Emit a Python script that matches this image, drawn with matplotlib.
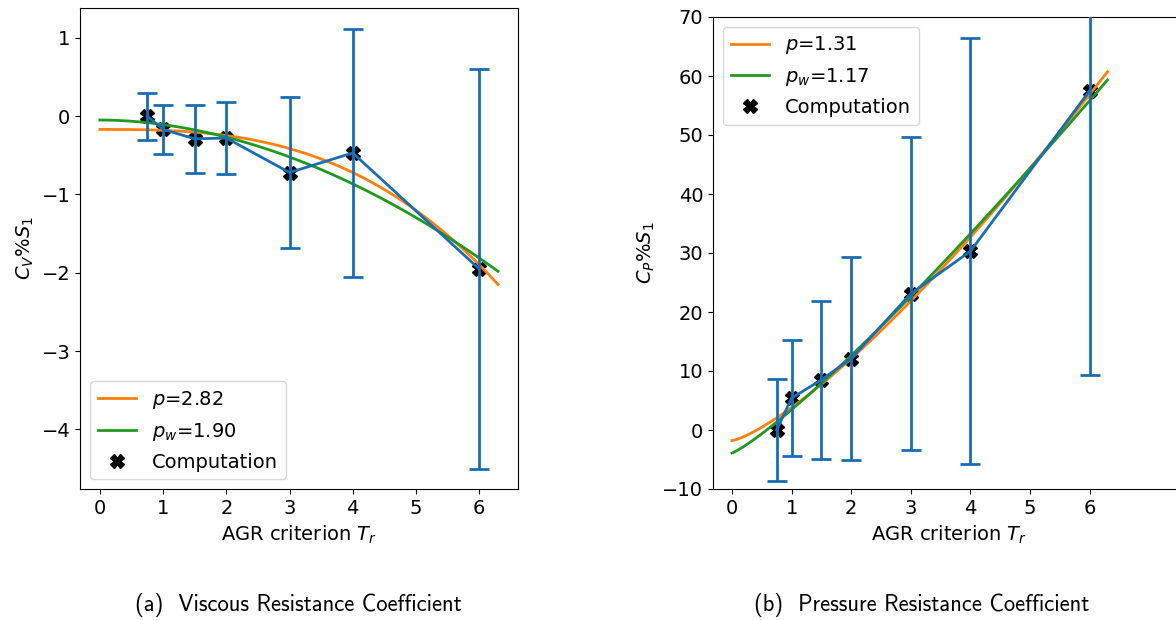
import numpy as np
import matplotlib
matplotlib.use('Agg')
import matplotlib.pyplot as plt

# AGR criterion values (shared by both panels)
tr = [0.75, 1.0, 1.5, 2.0, 3.0, 4.0, 6.0]

# (a) viscous resistance coefficient
cv = [0.0, -0.17, -0.29, -0.28, -0.72, -0.47, -1.95]
cv_err = [0.30, 0.31, 0.43, 0.46, 0.96, 1.58, 2.55]
# power-law fits  y = a + b * Tr**p
cv_fit = {'p': (2.82, -0.17, -0.01103), 'pw': (1.90, -0.05, -0.0585)}

# (b) pressure resistance coefficient
cp = [0.0, 5.4, 8.5, 12.1, 23.1, 30.3, 57.5]
cp_err = [8.7, 9.85, 13.35, 17.15, 26.5, 36.1, 48.1]
cp_fit = {'p': (1.31, -1.8, 5.61), 'pw': (1.17, -3.9, 7.34)}

BLUE = '#1a6db4'
ORANGE = '#ff7f0e'
GREEN = '#1f9a1f'
FS = 14

fig = plt.figure(figsize=(11.76, 6.2), dpi=100)
ax1 = fig.add_axes([80 / 1176, 131 / 620, 438 / 1176, 481 / 620])
ax2 = fig.add_axes([713 / 1176, 131 / 620, 472 / 1176, 472 / 620])

xs = np.linspace(0, 6.3, 200)


def draw(ax, y, yerr, fits):
    ax.plot(tr, y, ls='', marker='X', ms=10, color='black', zorder=2,
            label='Computation')
    p, a, b = fits['p']
    ax.plot(xs, a + b * xs ** p, color=ORANGE, lw=2, zorder=2,
            label='$p$={:.2f}'.format(p))
    p, a, b = fits['pw']
    ax.plot(xs, a + b * xs ** p, color=GREEN, lw=2, zorder=2,
            label='$p_w$={:.2f}'.format(p))
    ax.errorbar(tr, y, yerr=yerr, color=BLUE, lw=2, capsize=7,
                capthick=2, zorder=3)
    ax.set_xlabel('AGR criterion $T_r$', fontsize=FS)
    ax.tick_params(labelsize=FS)
    ax.set_xticks(range(7))


draw(ax1, cv, cv_err, cv_fit)
ax1.set_xlim(-0.315, 6.615)
ax1.set_ylim(-4.76, 1.38)
ax1.set_ylabel('$C_V\\%S_1$', fontsize=FS)
hs, ls = ax1.get_legend_handles_labels()
ax1.legend([hs[1], hs[2], hs[0]], [ls[1], ls[2], ls[0]], loc='lower left',
           fontsize=FS)

draw(ax2, cp, cp_err, cp_fit)
ax2.set_xlim(-0.318, 7.6)
ax2.set_ylim(-10, 70)
ax2.set_ylabel('$C_P\\%S_1$', fontsize=FS)
hs, ls = ax2.get_legend_handles_labels()
ax2.legend([hs[1], hs[2], hs[0]], [ls[1], ls[2], ls[0]], loc='upper left',
           fontsize=FS)

cap_font = ['cmss10', 'DejaVu Sans']
fig.text(298 / 1176, 1 - 605 / 620, '(a)  Viscous Resistance Coefficient',
         ha='center', va='center', fontsize=16.3, family=cap_font)
fig.text(922 / 1176, 1 - 605 / 620, '(b)  Pressure Resistance Coefficient',
         ha='center', va='center', fontsize=16.3, family=cap_font)

plt.savefig('out.png', dpi=100)
